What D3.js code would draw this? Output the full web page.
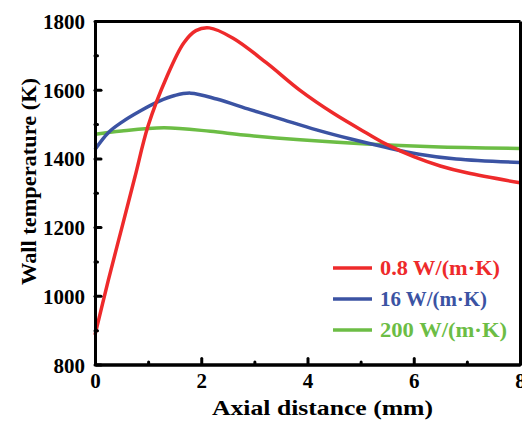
<!DOCTYPE html>
<html>
<head>
<meta charset="utf-8">
<script src="https://cdn.jsdelivr.net/npm/d3@7"></script>
<style>
  body { margin: 0; background: #fff; }
</style>
</head>
<body>
<div id="chart"></div>
<script>
// Data
const seriesNames = ["0.8 W/(m\u00b7K)", "16 W/(m\u00b7K)", "200 W/(m\u00b7K)"];
const seriesColors = ["#ee2a2b", "#3b53a3", "#6cbd45"];

const redX = [0, 0.25, 0.5, 0.75, 1.0, 1.35, 1.67, 1.9, 2.15, 2.6, 3.23, 3.86, 4.48, 5.11, 5.5, 6.0, 6.5, 7.0, 8];
const redY = [886, 1045, 1195, 1345, 1495, 1637, 1736, 1772, 1780, 1750, 1678, 1598, 1532, 1474, 1440, 1405, 1378, 1358, 1329];

const blueX = [0, 0.25, 0.5, 0.85, 1.2, 1.5, 1.8, 2.29, 2.92, 3.55, 4.17, 4.8, 5.45, 6.1, 6.8, 8];
const blueY = [1426, 1475, 1505, 1538, 1566, 1583, 1590, 1573, 1542, 1512, 1483, 1457, 1433, 1412, 1398, 1388];

const greenX = [0, 0.5, 1.3, 2.17, 2.8, 3.86, 5.11, 6.37, 8];
const greenY = [1470, 1480, 1489, 1479, 1468, 1454, 1442, 1434, 1429];

const xTicks = [0, 2, 4, 6, 8];
const xMinor = [1, 3, 5, 7];
const yTicks = [800, 1000, 1200, 1400, 1600, 1800];
const yMinor = [900, 1100, 1300, 1500, 1700];

const FONT = '"Liberation Serif"';

/* Canvas */
const W = 522, H = 421;
const margin = { top: 21, right: 2, bottom: 56.5, left: 95 };
const width = W - margin.left - margin.right;
const height = H - margin.top - margin.bottom;

const svg = d3.select("#chart").append("svg")
    .attr("width", W)
    .attr("height", H);

const g = svg.append("g")
    .attr("transform", `translate(${margin.left},${margin.top})`);

const xScale = d3.scaleLinear().domain([0, 8]).range([0, width]);
const yScale = d3.scaleLinear().domain([800, 1800]).range([height, 0]);

// Curves
const series = [
    redX.map((x, i) => ({ x, y: redY[i] })),
    blueX.map((x, i) => ({ x, y: blueY[i] })),
    greenX.map((x, i) => ({ x, y: greenY[i] }))
];

const line = d3.line()
    .x(d => xScale(d.x))
    .y(d => yScale(d.y))
    .curve(d3.curveCatmullRom.alpha(0.5));

// draw green first so red is on top
[2, 1, 0].forEach(i => {
    g.append("path")
        .datum(series[i])
        .attr("fill", "none")
        .attr("stroke", seriesColors[i])
        .attr("stroke-width", 3.5)
        .attr("d", line);
});

/* Axes */
function styleAxis(sel) {
    sel.attr("font-family", null);
    sel.select(".domain").attr("stroke", "#000").attr("stroke-width", 3);
    sel.selectAll(".tick line").attr("stroke", "#000").attr("stroke-width", 3).attr("stroke-linecap", "round");
    sel.selectAll("text")
        .attr("fill", "#000")
        .style("font-family", FONT)
        .style("font-weight", "bold")
        .style("font-size", "21px");
}

g.append("g")
    .attr("transform", `translate(0,${height})`)
    .call(d3.axisBottom(xScale).tickValues(xMinor).tickSize(-2.5).tickSizeOuter(0).tickFormat(""))
    .call(styleAxis);

g.append("g")
    .attr("transform", `translate(0,${height})`)
    .call(d3.axisBottom(xScale).tickValues(xTicks).tickSize(-6).tickSizeOuter(0).tickPadding(9).tickFormat(d3.format("d")))
    .call(styleAxis);

g.append("g")
    .call(d3.axisLeft(yScale).tickValues(yMinor).tickSize(-2.5).tickSizeOuter(0).tickFormat(""))
    .call(styleAxis);

g.append("g")
    .call(d3.axisLeft(yScale).tickValues(yTicks).tickSize(-6).tickSizeOuter(0).tickPadding(10).tickFormat(d3.format("d")))
    .call(styleAxis)
    .selectAll("text").attr("dy", "0.36em");

g.append("g")
    .call(d3.axisTop(xScale).tickValues([]).tickSizeOuter(0))
    .call(styleAxis);

g.append("g")
    .attr("transform", `translate(${width},0)`)
    .call(d3.axisRight(yScale).tickValues([]).tickSizeOuter(0))
    .call(styleAxis);

/* Axis titles */
svg.append("text")
    .attr("x", 322.5)
    .attr("y", 415)
    .attr("text-anchor", "middle")
    .attr("textLength", 221)
    .attr("lengthAdjust", "spacingAndGlyphs")
    .style("font-family", FONT)
    .style("font-weight", "bold")
    .style("font-size", "21px")
    .text("Axial distance (mm)");

svg.append("text")
    .attr("transform", "translate(36,181.5) rotate(-90)")
    .attr("text-anchor", "middle")
    .attr("textLength", 207)
    .attr("lengthAdjust", "spacingAndGlyphs")
    .style("font-family", FONT)
    .style("font-weight", "bold")
    .style("font-size", "21px")
    .text("Wall temperature (K)");

/* Legend */
const legend = svg.append("g").attr("transform", "translate(333,268)");
const legendWidths = [120, 107, 127];
seriesNames.forEach((name, i) => {
    const row = legend.append("g").attr("transform", `translate(0,${i * 31})`);
    row.append("line")
        .attr("x1", 0).attr("x2", 39)
        .attr("stroke", seriesColors[i])
        .attr("stroke-width", 3.5);
    row.append("text")
        .attr("x", 47)
        .attr("y", 7)
        .attr("fill", seriesColors[i])
        .attr("textLength", legendWidths[i])
        .attr("lengthAdjust", "spacingAndGlyphs")
        .style("font-family", FONT)
        .style("font-weight", "bold")
        .style("font-size", "21px")
        .text(name);
});
</script>
</body>
</html>
